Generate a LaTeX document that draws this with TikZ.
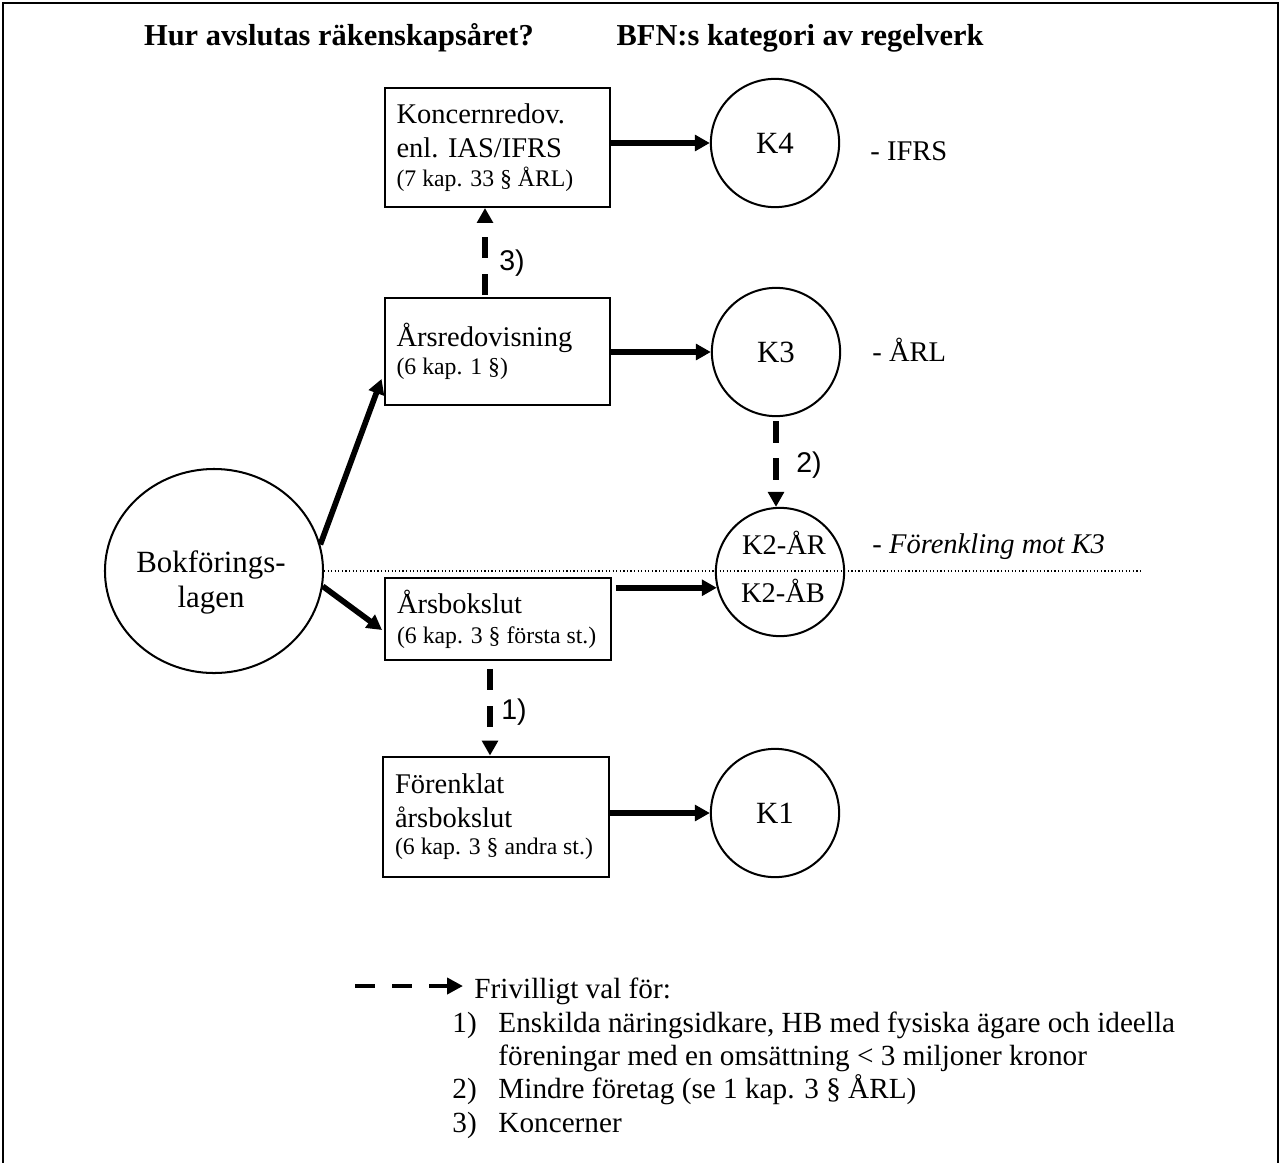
\documentclass[tikz,border=0pt]{standalone}
\usepackage{fontspec}
\setmainfont{Liberation Serif}
\newfontfamily\arialf{Liberation Sans}
\usetikzlibrary{arrows.meta,calc,shapes.geometric}
\begin{document}
\begin{tikzpicture}[x=0.421pt,y=-0.421pt,
  box/.style={draw, line width=0.85pt, minimum width=95.1pt, text width=85pt, inner xsep=5pt, align=flush left, font=\fontsize{12}{14.3}\selectfont},
  circ/.style={draw, circle, line width=0.85pt, minimum size=54pt, inner sep=0pt, font=\fontsize{13}{15}\selectfont},
  tip/.style={-{Triangle[length=6.3pt,width=6.6pt]}},
  arr/.style={line width=2.4pt, tip},
  darr/.style={line width=2.5pt, dash pattern=on 9pt off 6.6pt, tip},
  txt/.style={font=\fontsize{12}{14}\selectfont, inner sep=0pt, anchor=base west},
  legtxt/.style={font=\fontsize{12.3}{14}\selectfont, inner sep=0pt, anchor=base west},
  lbl/.style={font=\arialf\fontsize{12}{14}\selectfont, inner sep=0pt}
]
\useasboundingbox (0,0) rectangle (1282,1162);
\draw[line width=0.85pt] (3,1170) -- (3,3) -- (1278,3) -- (1278,1170);

% titles
\node[font=\bfseries\fontsize{12.8}{15}\selectfont, inner sep=0pt] (t1) at (339,38) {Hur avslutas räkenskapsåret?};
\node[font=\bfseries\fontsize{12.8}{15}\selectfont, inner sep=0pt] (t2) at (800,38) {BFN:s kategori av regelverk};

% boxes
\node[box, minimum height=50.1pt] (konc) at (497.5,147.5) {Koncernredov.\\enl. IAS/IFRS\\[-2.1pt]{\fontsize{10}{12}\selectfont\mbox{(7 kap. 33 § ÅRL)}}};
\node[box, minimum height=45pt] (ars) at (497.5,351.5) {Årsredovisning\\[-2.5pt]{\fontsize{10}{12}\selectfont\mbox{(6 kap. 1 §)}}};
\node[box, minimum height=34.5pt] (arsb) at (498,619) {Årsbokslut\\[-1.7pt]{\fontsize{10}{12}\selectfont\mbox{(6 kap. 3 § första st.)}}};
\node[box, minimum height=50.9pt] (forb) at (496,817) {Förenklat\\årsbokslut\\[-3pt]{\fontsize{10}{12}\selectfont\mbox{(6 kap. 3 § andra st.)}}};

% circles
\node[circ] (k4) at (775,143) {K4};
\node[circ] (k3) at (776,352) {K3};
\node[circ] (k2) at (780,572) {};
\node[circ] (k1) at (775,813) {K1};
\node[draw, ellipse, line width=0.85pt, minimum width=91.8pt, minimum height=85.9pt, inner sep=0pt] (bokf) at (214,571) {};
\node[font=\fontsize{13}{15}\selectfont, inner sep=0pt, anchor=base] (bokt1) at (211,572) {Bokförings-};
\node[font=\fontsize{13}{15}\selectfont, inner sep=0pt, anchor=base] (bokt2) at (211,607) {lagen};

\node[font=\fontsize{12}{14}\selectfont, inner sep=0pt, anchor=base] (k2ar) at (784,554) {K2-ÅR};
\node[font=\fontsize{12}{14}\selectfont, inner sep=0pt, anchor=base] (k2ab) at (783,602) {K2-ÅB};

% dotted separator
\coordinate (dotR) at (1140,571);
\draw[line width=0.5pt, dash pattern=on 0.5pt off 1pt] (bokf.east) -- (dotR);

% side labels
\node[txt] (ifrs) at (870,160) {- IFRS};
\node[txt] (arl) at (872,361) {- ÅRL};
\node[txt, font=\itshape\fontsize{12}{14}\selectfont] (forenk) at (872,553) {- Förenkling mot K3};

% solid arrows
\draw[arr] (konc.east |- k4.west) -- (k4.west);
\draw[arr] (ars.east |- k3.west) -- (k3.west);
\draw[arr] (forb.east |- k1.west) -- (k1.west);
\draw[arr] ($(arsb.east |- k2.194.4)+(4,0)$) -- (k2.194.4);
\draw[arr] (bokf.14.4) -- ($(ars.south west)+(-2,-27)$);
\draw[arr] (bokf.-8.7) -- ($(arsb.west)+(-2,11)$);

% dashed arrows
\draw[darr] ($(ars.north)+(-12.5,-2)$) -- ($(konc.south)+(-12.5,0)$);
\node[lbl] (l3) at (512,263) {3)};
\draw[darr] ($(k3.south)+(0,4)$) -- (k3.south |- k2.north);
\node[lbl] (l2) at (809,465) {2)};
\draw[darr] ($(arsb.south)+(-8,8)$) -- ($(forb.north)+(-6,0)$);
\node[lbl] (l1) at (514,712) {1)};

% legend
\coordinate (legA) at (355,986);
\coordinate (legB) at (463,986);
\draw[line width=1.9pt, dash pattern=on 8.4pt off 7.2pt, -{Triangle[length=6.7pt,width=6.7pt]}] (legA) -- (legB);
\node[legtxt] (leg) at (474,998) {Frivilligt val för:};
\node[legtxt] (n1) at (452,1032) {1)};
\node[legtxt] (e1) at (498,1032) {Enskilda näringsidkare, HB med fysiska ägare och ideella};
\node[legtxt] (e1b) at (498,1065) {föreningar med en omsättning < 3 miljoner kronor};
\node[legtxt] (n2) at (452,1098) {2)};
\node[legtxt] (e2) at (498,1098) {Mindre företag (se 1 kap. 3 § ÅRL)};
\node[legtxt] (n3) at (452,1132) {3)};
\node[legtxt] (e3) at (498,1132) {Koncerner};
\end{tikzpicture}
\end{document}
